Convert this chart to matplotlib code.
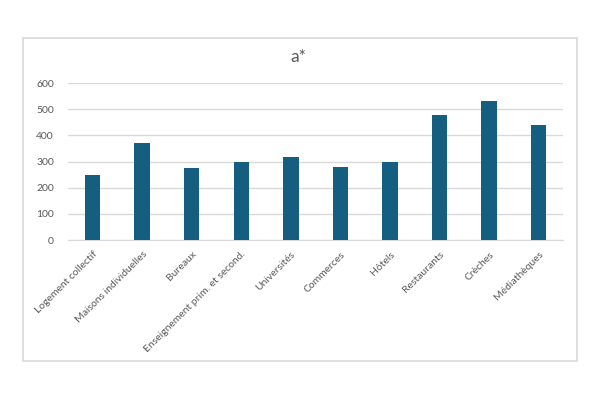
import matplotlib.pyplot as plt
from matplotlib.patches import Rectangle

plt.rcParams["font.family"] = ["Lato", "DejaVu Sans"]

categories = ["Logement collectif", "Maisons individuelles", "Bureaux",
              "Enseignement prim. et second.", "Universités", "Commerces",
              "Hôtels", "Restaurants", "Crèches", "Médiathèques"]
values = [248, 370, 274, 299, 319, 278, 299, 478, 530, 440]
yticks = [0, 100, 200, 300, 400, 500, 600]

fig = plt.figure(figsize=(6, 4), dpi=100)
fig.patches.append(Rectangle((23 / 600, 1 - 361 / 400), 554 / 600, 323 / 400,
                             transform=fig.transFigure, fill=False,
                             edgecolor="#d9d9d9", linewidth=1.2))

ax = fig.add_axes([0.113, 0.4, 0.826, 0.392])
x = range(len(categories))
ax.bar(x, values, width=0.31, color="#165E80", zorder=3)
ax.set_xlim(-0.5, len(categories) - 0.5)
ax.set_ylim(0, 600)
ax.set_yticks(yticks)
ax.grid(axis="y", color="#d9d9d9", linewidth=1, zorder=0)
for s in ["top", "right", "left"]:
    ax.spines[s].set_visible(False)
ax.spines["bottom"].set_color("#d9d9d9")
ax.tick_params(length=0, colors="#595959", labelsize=7.5)
ax.tick_params(axis="y", pad=10)
ax.tick_params(axis="x", pad=7)
ax.set_xticks(list(x))
ax.set_xticklabels(categories, rotation=45, ha="right", rotation_mode="anchor")

fig.text(0.497, 1 - 57 / 400, "a*", color="#595959", fontsize=12.5,
         ha="center", va="center")

fig.savefig("out.png")
